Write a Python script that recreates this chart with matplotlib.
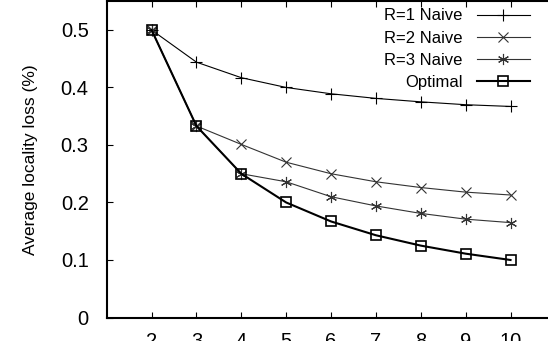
import matplotlib
matplotlib.use('Agg')
import matplotlib.pyplot as plt

plt.rcParams['font.family'] = ['Liberation Sans', 'DejaVu Sans']

# partition count
k = [2, 3, 4, 5, 6, 7, 8, 9, 10]
r1_naive = [0.5, 0.444, 0.417, 0.400, 0.389, 0.381, 0.375, 0.370, 0.367]
r2_naive = [0.5, 0.333, 0.301, 0.270, 0.250, 0.236, 0.226, 0.218, 0.213]
r3_naive = [0.5, 0.333, 0.250, 0.236, 0.210, 0.194, 0.181, 0.171, 0.165]
optimal = [0.5, 0.333, 0.250, 0.200, 0.167, 0.143, 0.125, 0.111, 0.100]
yticks = [0, 0.1, 0.2, 0.3, 0.4, 0.5]

W, H = 548, 341
fig = plt.figure(figsize=(W / 100, H / 100), dpi=100)
# plot area runs off the right edge, like the cropped original
ax = fig.add_axes([106.7 / W, 23.5 / H, 448.7 / W, 316.3 / H])

ax.plot(k, r1_naive, color='black', lw=0.8, marker='+', ms=9, mew=0.8,
        label='R=1 Naive')
ax.plot(k, r2_naive, color='#333333', lw=0.8, marker='x', ms=7, mew=0.8,
        label='R=2 Naive')
ax.plot(k, r3_naive, color='#333333', lw=0.8, marker=(6, 2, 0), ms=8, mew=0.8,
        label='R=3 Naive')
ax.plot(k, optimal, color='black', lw=1.5, marker='s', ms=7, mew=1.2,
        mfc='none', label='Optimal')

ax.set_xlim(1, 11)
ax.set_ylim(0, 0.55)
ax.set_xticks(k)
ax.set_yticks(yticks)
ax.set_yticklabels(['0', '0.1', '0.2', '0.3', '0.4', '0.5'])
ax.tick_params(direction='in', length=4, width=0.8, top=True, right=True,
               labelsize=14.5)
ax.tick_params(axis='y', pad=13)
ax.tick_params(axis='x', pad=10.5)
for s in ax.spines.values():
    s.set_linewidth(1.5)

ax.set_ylabel('Average locality loss (%)', fontsize=12.5, labelpad=16)

ax.legend(loc='upper right', bbox_to_anchor=(530 / W, 1 - 8.5 / H),
          bbox_transform=fig.transFigure, frameon=False, markerfirst=False,
          fontsize=12, handlelength=3.2, handletextpad=0.84, labelspacing=0.43,
          borderpad=0, borderaxespad=0)

fig.savefig('out.png', dpi=100)
